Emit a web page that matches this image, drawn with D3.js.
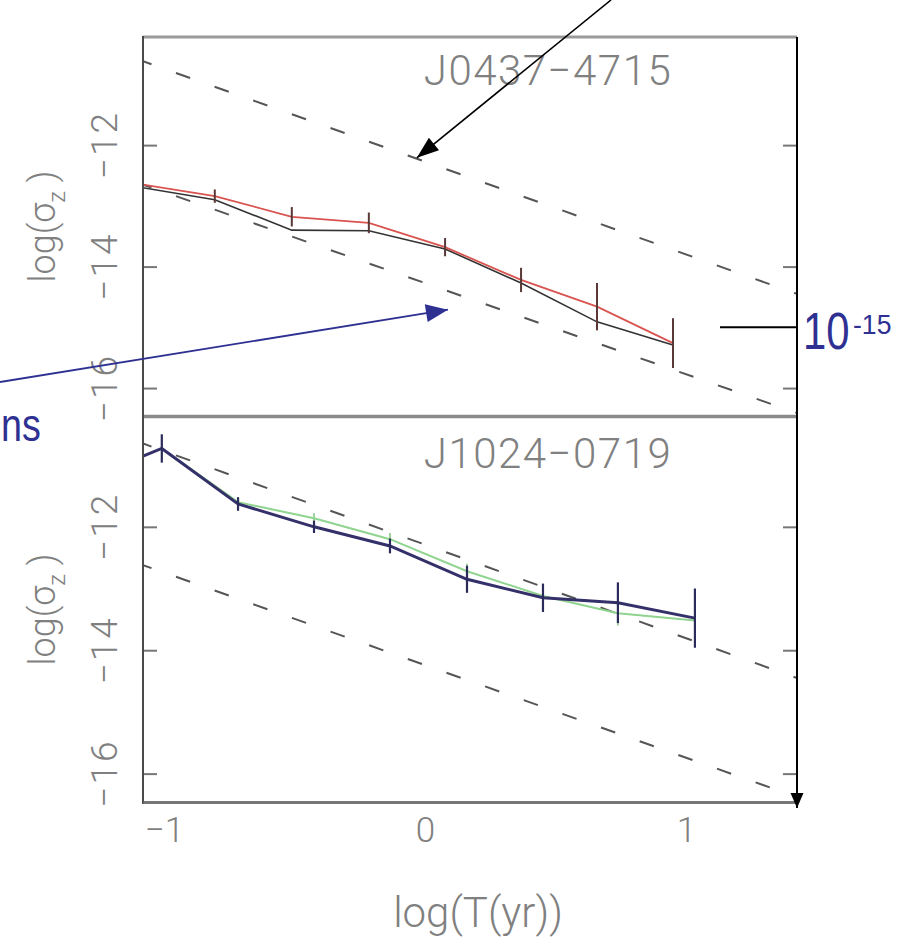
<!DOCTYPE html>
<html>
<head>
<meta charset="utf-8">
<script src="https://cdn.jsdelivr.net/npm/d3@7"></script>
<style>
  html, body { margin: 0; padding: 0; background: #ffffff; }
  svg { display: block; }
  .pg { font-family: "Roboto", "Liberation Sans", sans-serif; font-weight: 300; fill: #808080; }
  .ann { font-family: "Liberation Sans", Arial, sans-serif; fill: #2e3192; }
</style>
</head>
<body>
<script>
// ---------------- data ----------------
const panelNames = ["J0437\u22124715", "J1024\u22120719"];
const xTicks = [-1, 0, 1];
const yTicks = [-12, -14, -16];
const xLabel = "log(T(yr))";

// top panel (J0437-4715)
const topLogT  = [-1.097, -0.805, -0.510, -0.215, 0.077, 0.368, 0.659, 0.950];
const topBlack = [-12.69, -12.90, -13.40, -13.41, -13.71, -14.27, -14.91, -15.29];
const topRed   = [-12.64, -12.84, -13.18, -13.28, -13.68, -14.22, -14.66, -15.26];
const topRedErr = [0, 0.11, 0.16, 0.17, 0.15, 0.20, 0.39, 0.41];

// bottom panel (J1024-0719)
const botLogT   = [-1.30, -1.008, -0.716, -0.425, -0.134, 0.161, 0.452, 0.739, 1.034];
const botNavy   = [-11.24, -10.73, -11.63, -12.00, -12.31, -12.85, -13.15, -13.23, -13.48];
const botNavyErr = [0, 0.23, 0.11, 0.10, 0.12, 0.22, 0.23, 0.33, 0.48];
const botGreen  = [null, -10.73, -11.60, -11.86, -12.20, -12.72, -13.12, -13.40, -13.52];
const botGreenErr = [0, 0.18, 0.08, 0.08, 0.10, 0.12, 0.12, 0.20, 0.28];

// reference dashed lines (endpoints in log units)
const dashX = [-1.08, 1.425];
const topUpperDash = [-10.62, -14.45];
const topLowerDash = [-12.65, -16.41];
const botUpperDash = [-10.65, -14.45];
const botLowerDash = [-12.62, -16.38];

// overlay annotations
const refLevel = -15;            // the 10^-15 marker
const refLabel = "10";
const refExp = "-15";
const sideText = "ns";

// ---------------- layout ----------------
const W = 913, H = 938;
const left = 143, right = 797;
const svg = d3.select("body").append("svg").attr("width", W).attr("height", H);
const fmt = v => String(v).replace("-", "\u2212");

const x = d3.scaleLinear().domain([-1.08, 1.425]).range([left, right]);
const yDomain = [-16.46, -10.22];
const panels = [
  { name: panelNames[0], y: d3.scaleLinear().domain(yDomain).range([416, 37]), top: 37, bottom: 416 },
  { name: panelNames[1], y: d3.scaleLinear().domain(yDomain).range([802, 417]), top: 417, bottom: 802 }
];

panels.forEach((p, i) => {
  const g = svg.append("g");
  const clipId = "clip" + i;
  svg.append("clipPath").attr("id", clipId).append("rect")
    .attr("x", left).attr("y", p.top).attr("width", right - left).attr("height", p.bottom - p.top);
  const plot = g.append("g").attr("clip-path", `url(#${clipId})`);

  // dashed reference lines
  const dashes = i === 0 ? [topUpperDash, topLowerDash] : [botUpperDash, botLowerDash];
  dashes.forEach(d => {
    plot.append("line")
      .attr("x1", x(dashX[0])).attr("y1", p.y(d[0]))
      .attr("x2", x(dashX[1])).attr("y2", p.y(d[1]))
      .attr("stroke", "#555").attr("stroke-width", 2)
      .attr("stroke-dasharray", "15,26").attr("stroke-dashoffset", 6);
  });

  const line = d3.line().defined(d => d[1] !== null).x(d => x(d[0])).y(d => p.y(d[1]));

  if (i === 0) {
    plot.append("path").datum(topLogT.map((t, k) => [t, topBlack[k]]))
      .attr("d", line).attr("fill", "none").attr("stroke", "#333").attr("stroke-width", 1.6);
    plot.append("path").datum(topLogT.map((t, k) => [t, topRed[k]]))
      .attr("d", line).attr("fill", "none").attr("stroke", "#d9534f").attr("stroke-width", 1.8);
    plot.selectAll(".eb").data(topLogT.map((t, k) => [t, topRed[k], topRedErr[k]]).filter(d => d[2] > 0))
      .enter().append("line")
      .attr("x1", d => x(d[0])).attr("x2", d => x(d[0]))
      .attr("y1", d => p.y(d[1] - d[2])).attr("y2", d => p.y(d[1] + d[2]))
      .attr("stroke", "#5a3838").attr("stroke-width", 2);
  } else {
    plot.selectAll(".ebg").data(botLogT.map((t, k) => [t, botGreen[k], botGreenErr[k]]).filter(d => d[1] !== null && d[2] > 0))
      .enter().append("line")
      .attr("x1", d => x(d[0])).attr("x2", d => x(d[0]))
      .attr("y1", d => p.y(d[1] - d[2])).attr("y2", d => p.y(d[1] + d[2]))
      .attr("stroke", "#7cc47c").attr("stroke-width", 1.5);
    plot.append("path").datum(botLogT.map((t, k) => [t, botGreen[k]]))
      .attr("d", line).attr("fill", "none").attr("stroke", "#8fd48f").attr("stroke-width", 2);
    plot.append("path").datum(botLogT.map((t, k) => [t, botNavy[k]]))
      .attr("d", line).attr("fill", "none").attr("stroke", "#34306a").attr("stroke-width", 3);
    plot.selectAll(".eb").data(botLogT.map((t, k) => [t, botNavy[k], botNavyErr[k]]).filter(d => d[2] > 0))
      .enter().append("line")
      .attr("x1", d => x(d[0])).attr("x2", d => x(d[0]))
      .attr("y1", d => p.y(d[1] - d[2])).attr("y2", d => p.y(d[1] + d[2]))
      .attr("stroke", "#2c2c5c").attr("stroke-width", 2.2);
  }

  // y ticks (inside, both sides)
  const axL = d3.axisLeft(p.y).tickValues(yTicks).tickSize(-14).tickFormat("");
  const axR = d3.axisRight(p.y).tickValues(yTicks).tickSize(-14).tickFormat("");
  g.append("g").attr("transform", `translate(${left},0)`).call(axL)
    .call(a => a.select(".domain").remove())
    .call(a => a.selectAll("line").attr("stroke", "#777").attr("stroke-width", 2));
  g.append("g").attr("transform", `translate(${right},0)`).call(axR)
    .call(a => a.select(".domain").remove())
    .call(a => a.selectAll("line").attr("stroke", "#777").attr("stroke-width", 2));

  // rotated tick labels
  yTicks.forEach(v => {
    g.append("text").attr("class", "pg")
      .attr("transform", `translate(117,${p.y(v)}) rotate(-90)`)
      .attr("text-anchor", "middle").attr("font-size", 37).attr("letter-spacing", 2)
      .text(fmt(v));
  });

  // y axis title
  const yt = g.append("text").attr("class", "pg")
    .attr("transform", `translate(55,${(p.top + p.bottom) / 2}) rotate(-90)`)
    .attr("text-anchor", "middle").attr("font-size", 36);
  yt.append("tspan").text("log(\u03c3");
  yt.append("tspan").attr("font-size", 24).attr("dy", 10).text("z");
  yt.append("tspan").attr("dy", -10).text(" )");

  // panel name
  g.append("text").attr("class", "pg")
    .attr("x", 548).attr("y", i === 0 ? 85 : 468)
    .attr("text-anchor", "middle").attr("font-size", 42).attr("letter-spacing", 1.5)
    .text(p.name);
});

// frame
svg.append("line").attr("x1", left).attr("x2", right).attr("y1", 37).attr("y2", 37)
  .attr("stroke", "#9a9a9a").attr("stroke-width", 3);
svg.append("line").attr("x1", left).attr("x2", right).attr("y1", 416.5).attr("y2", 416.5)
  .attr("stroke", "#8a8a8a").attr("stroke-width", 3.5);
svg.append("line").attr("x1", left).attr("x2", left).attr("y1", 36).attr("y2", 804)
  .attr("stroke", "#4a4a4a").attr("stroke-width", 2);

// bottom x axis
const xAxisG = svg.append("g").attr("transform", "translate(0,802)")
  .call(d3.axisBottom(x).tickValues(xTicks).tickSize(0).tickPadding(38).tickFormat(fmt));
xAxisG.select(".domain").attr("stroke", "#777").attr("stroke-width", 3);
xAxisG.selectAll("text").attr("class", "pg").attr("font-size", 35).attr("dy", 0).attr("y", 40);

svg.append("text").attr("class", "pg").attr("x", 478).attr("y", 927)
  .attr("text-anchor", "middle").attr("font-size", 42).text(xLabel);

// ---------------- overlay annotations ----------------
function arrow(x1, y1, x2, y2, color, width, len, half) {
  svg.append("line").attr("x1", x1).attr("y1", y1).attr("x2", x2).attr("y2", y2)
    .attr("stroke", color).attr("stroke-width", width);
  const a = Math.atan2(y2 - y1, x2 - x1);
  const bx = x2 - len * Math.cos(a), by = y2 - len * Math.sin(a);
  const px = -Math.sin(a) * half, py = Math.cos(a) * half;
  svg.append("polygon")
    .attr("points", `${x2},${y2} ${bx + px},${by + py} ${bx - px},${by - py}`)
    .attr("fill", color);
}
const topY = panels[0].y;
// black arrow pointing at the upper dashed line
arrow(611, 0, x(-0.031), topY(-12.21), "#000", 1.6, 22, 8);
// blue arrow from the left
arrow(0, 382, x(0.088), topY(-14.71), "#2e3192", 1.8, 22, 9);
// right-hand black vertical arrow
arrow(right, 37, right, 808, "#000", 2, 15, 6.5);
// 10^-15 marker
svg.append("line").attr("x1", x(1.13)).attr("x2", right)
  .attr("y1", topY(refLevel)).attr("y2", topY(refLevel))
  .attr("stroke", "#000").attr("stroke-width", 2);
svg.append("g").attr("transform", `translate(803,${topY(refLevel) + 22}) scale(0.82,1)`)
  .append("text").attr("class", "ann").attr("font-size", 51).text(refLabel);
svg.append("g").attr("transform", `translate(853,${topY(refLevel) + 7}) scale(0.95,1)`)
  .append("text").attr("class", "ann").attr("font-size", 28).text(refExp);
// word fragment at left edge
svg.append("g").attr("transform", "translate(1,441) scale(0.82,1)")
  .append("text").attr("class", "ann").attr("font-size", 46).text(sideText);
</script>
</body>
</html>
